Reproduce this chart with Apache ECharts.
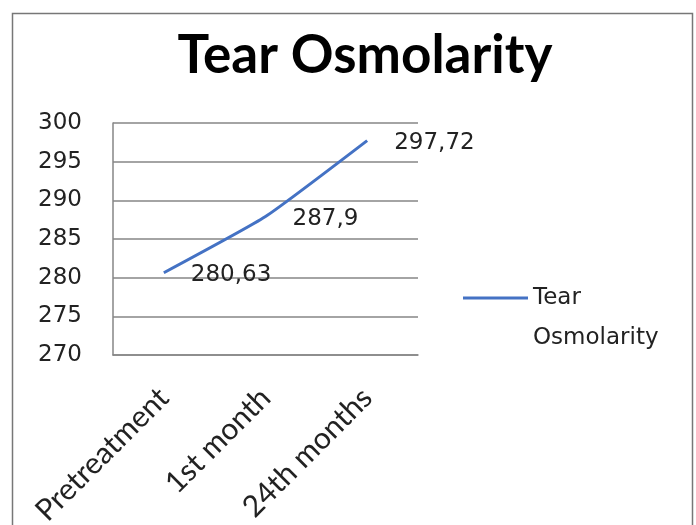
<!DOCTYPE html>
<html>
<head>
<meta charset="utf-8">
<script src="https://cdn.jsdelivr.net/npm/echarts@6/dist/echarts.min.js"></script>
<style>
  html, body { margin: 0; padding: 0; background: #fff; }
  #main { width: 696px; height: 525px; }
</style>
</head>
<body>
<div id="main"></div>
<script>
var categories = ['Pretreatment', '1st month', '24th months'];
var osmolarity = [280.63, 287.9, 297.72];
var yTicks = [270, 275, 280, 285, 290, 295, 300];
var seriesName = 'Tear Osmolarity';

var chart = echarts.init(document.getElementById('main'));

chart.setOption({
  backgroundColor: '#fff',
  animation: false,
  graphic: [{
    type: 'rect',
    shape: { x: 12.5, y: 13.5, width: 680, height: 530 },
    style: { fill: 'none', stroke: '#777', lineWidth: 1.5 },
    silent: true
  }],
  title: {
    text: 'Tear Osmolarity',
    left: 360,
    top: 24,
    textAlign: 'center',
    textStyle: {
      fontFamily: 'Lato',
      fontWeight: 'bold',
      fontSize: 53,
      color: '#000'
    }
  },
  legend: {
    data: [seriesName],
    left: 463,
    top: 238,
    padding: 0,
    icon: 'rect',
    itemWidth: 65,
    itemHeight: 3,
    itemGap: 0,
    // leading blank line keeps "Tear" level with the legend line
    formatter: function () { return '\nTear\nOsmolarity'; },
    textStyle: {
      fontFamily: 'DejaVu Sans',
      fontSize: 23,
      color: '#222',
      lineHeight: 40
    }
  },
  grid: {
    left: 113, right: 278, top: 123, bottom: 170,
    containLabel: false,
    outerBoundsMode: 'none'
  },
  xAxis: {
    type: 'category',
    data: categories,
    boundaryGap: true,
    axisLine: { show: true, lineStyle: { color: '#868686', width: 1.5 } },
    axisTick: { show: false },
    axisLabel: {
      rotate: 45,
      margin: 38,
      fontFamily: 'Lato',
      fontSize: 30,
      color: '#222'
    }
  },
  yAxis: {
    type: 'value',
    min: yTicks[0],
    max: yTicks[yTicks.length - 1],
    interval: 5,
    axisLine: { show: true, lineStyle: { color: '#868686', width: 1.5 } },
    axisTick: { show: false },
    splitLine: { show: true, lineStyle: { color: '#868686', width: 1.5 } },
    axisLabel: {
      margin: 31,
      fontFamily: 'DejaVu Sans',
      fontSize: 23,
      color: '#222'
    }
  },
  series: [{
    name: seriesName,
    type: 'line',
    data: osmolarity,
    symbol: 'circle',
    symbolSize: 0,
    showSymbol: true,
    smooth: 0.15,
    lineStyle: { color: '#4472C4', width: 3 },
    itemStyle: { color: '#4472C4' },
    label: {
      show: true,
      position: 'right',
      distance: 27,
      offset: [0, 2],
      fontFamily: 'DejaVu Sans',
      fontSize: 23,
      color: '#222',
      formatter: function (p) { return String(p.value).replace('.', ','); }
    }
  }]
});
</script>
</body>
</html>
